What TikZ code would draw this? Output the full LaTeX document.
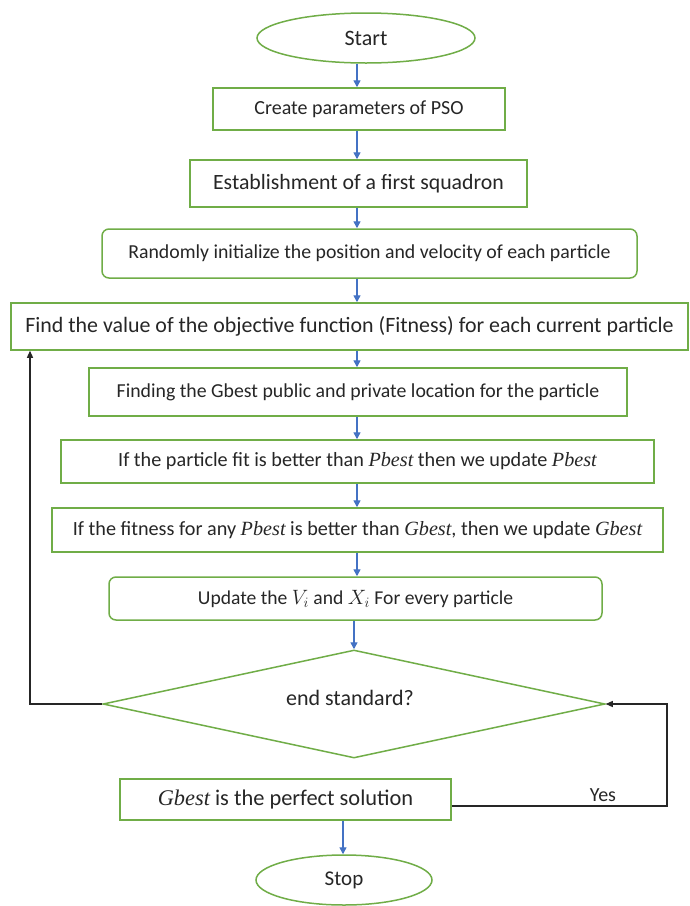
\documentclass[tikz,border=0pt]{standalone}
\usepackage{fontspec}
\setmainfont{Carlito}
\newfontfamily\cmb{Liberation Serif}
\usetikzlibrary{shapes.geometric,arrows.meta}
\definecolor{gborder}{RGB}{112,173,71}
\definecolor{ablue}{RGB}{68,114,196}
\newcommand{\mi}[1]{{\cmb\itshape #1}}
\tikzset{
  x=1pt,y=-1pt,
  box/.style={draw=gborder,line width=1.5pt,rectangle,inner sep=0pt,text=black!85},
  rbox/.style={box,rounded corners=7pt},
  oval/.style={draw=gborder,line width=1.5pt,ellipse,inner sep=0pt,text=black!85},
  arr/.style={draw=ablue,line width=1.4pt,-{Triangle[length=7pt,width=7pt]}},
  fb/.style={draw=black!85,line width=1.2pt},
  fba/.style={fb,-{Triangle[length=7pt,width=6pt]}}
}
\begin{document}
\begin{tikzpicture}
\useasboundingbox (0,0) rectangle (689,906);
\fill[white] (0,0) rectangle (689,906);
\node[oval,minimum width=218pt,minimum height=50pt,font=\fontsize{22}{24}\selectfont] (start) at (366,38) {Start};
\node[box,minimum width=292pt,minimum height=42pt,font=\fontsize{20}{23}\selectfont] (b1) at (359,109) {Create parameters of PSO};
\node[box,minimum width=337pt,minimum height=47pt,font=\fontsize{21.8}{24}\selectfont] (b2) at (358.5,183.5) {Establishment of a first squadron};
\node[rbox,minimum width=535pt,minimum height=49pt,font=\fontsize{19.8}{22}\selectfont] (b3) at (369.5,253.5) {Randomly initialize the position and velocity of each particle};
\node[box,minimum width=677pt,minimum height=47pt,font=\fontsize{21.9}{24}\selectfont] (b4) at (349.5,326.5) {Find the value of the objective function (Fitness) for each current particle};
\node[box,minimum width=538pt,minimum height=48pt,font=\fontsize{19.8}{22}\selectfont] (b5) at (358,392) {Finding the Gbest public and private location for the particle};
\node[box,minimum width=593pt,minimum height=43pt,font=\fontsize{20.2}{22}\selectfont] (b6) at (357.5,461.5) {If the particle fit is better than \mi{Pbest} then we update \mi{Pbest}};
\node[box,minimum width=611pt,minimum height=44pt,font=\fontsize{20.2}{22}\selectfont] (b7) at (357.5,530) {If the fitness for any \mi{Pbest} is better than \mi{Gbest}, then we update \mi{Gbest}};
\node[rbox,minimum width=493pt,minimum height=43pt,font=\fontsize{19.6}{22}\selectfont] (b8) at (355.5,598.5) {Update the $V_i$ and $X_i$ For every particle};
\node[draw=gborder,line width=1.5pt,diamond,aspect=4.6,inner sep=0pt,minimum width=502pt,minimum height=108pt] (dia) at (354,704) {};
\node[text=black!85,font=\fontsize{22}{24}\selectfont] (diat) at (350,698) {end standard?};
\node[box,minimum width=331pt,minimum height=41pt,font=\fontsize{22.4}{24}\selectfont] (b9) at (285.5,799.5) {\mi{Gbest} is the perfect solution};
\node[oval,minimum width=176pt,minimum height=50pt,font=\fontsize{21}{23}\selectfont] (stop) at (344,880) {Stop};
\node[text=black!85,font=\fontsize{20}{22}\selectfont] (yes) at (603,795) {Yes};
\coordinate (col) at (357,0);
\coordinate (col2) at (343,0);
\coordinate (lft) at (30,0);
\coordinate (rgt) at (667,0);
\coordinate (yl) at (0,806);
\draw[arr] (col |- start.south) -- (col |- b1.north);
\draw[arr] (col |- b1.south) -- (col |- b2.north);
\draw[arr] (col |- b2.south) -- (col |- b3.north);
\draw[arr] (col |- b3.south) -- (col |- b4.north);
\draw[arr] (col |- b4.south) -- (col |- b5.north);
\draw[arr] (col |- b5.south) -- (col |- b6.north);
\draw[arr] (col |- b6.south) -- (col |- b7.north);
\draw[arr] (col |- b7.south) -- (col |- b8.north);
\draw[arr] (dia.north |- b8.south) -- (dia.north);
\draw[arr] (col2 |- b9.south) -- (col2 |- stop.north);
\draw[fba] (dia.west) -- (lft |- dia.west) -- (lft |- b4.south);
\draw[fba] (b9.east |- yl) -- (rgt |- yl) -- (rgt |- dia.east) -- (dia.east);
\end{tikzpicture}
\end{document}
